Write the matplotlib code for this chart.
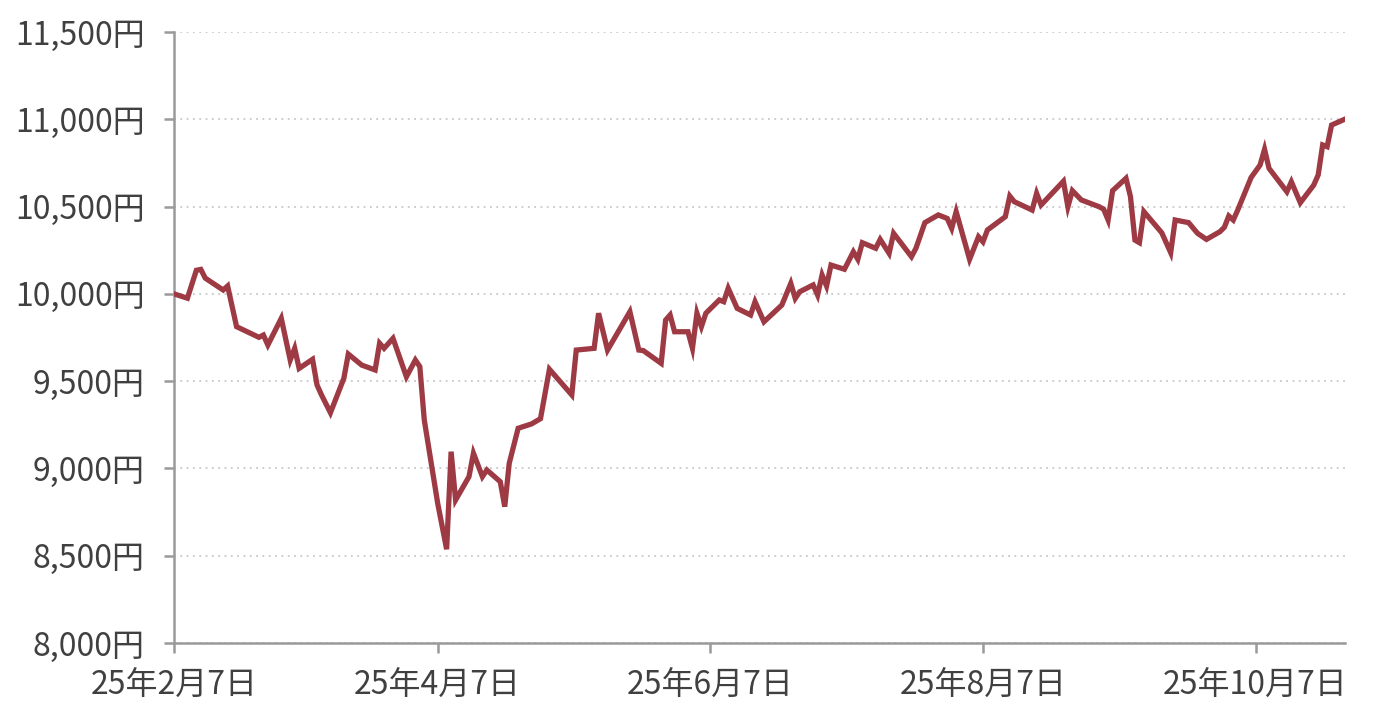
import pandas as pd
import numpy as np
import matplotlib
matplotlib.use('Agg')
import matplotlib.pyplot as plt
import matplotlib.dates as mdates
from matplotlib.ticker import FuncFormatter

plt.rcParams['font.family'] = ['Noto Sans CJK JP', 'DejaVu Sans']

# values (business days, yen)
dates = [
    '2025-02-07', '2025-02-10', '2025-02-12', '2025-02-13', '2025-02-14', '2025-02-18',
    '2025-02-19', '2025-02-21', '2025-02-26', '2025-02-27', '2025-02-28', '2025-03-03',
    '2025-03-05', '2025-03-06', '2025-03-07', '2025-03-10', '2025-03-11', '2025-03-12',
    '2025-03-14', '2025-03-17', '2025-03-18', '2025-03-21', '2025-03-24', '2025-03-25',
    '2025-03-26', '2025-03-28', '2025-03-31', '2025-04-02', '2025-04-03', '2025-04-04',
    '2025-04-07', '2025-04-09', '2025-04-10', '2025-04-11', '2025-04-14', '2025-04-15',
    '2025-04-17', '2025-04-18', '2025-04-21', '2025-04-22', '2025-04-23', '2025-04-25',
    '2025-04-28', '2025-04-30', '2025-05-02', '2025-05-07', '2025-05-08', '2025-05-12',
    '2025-05-13', '2025-05-15', '2025-05-20', '2025-05-22', '2025-05-23', '2025-05-27',
    '2025-05-28', '2025-05-29', '2025-05-30', '2025-06-02', '2025-06-03', '2025-06-04',
    '2025-06-05', '2025-06-06', '2025-06-09', '2025-06-10', '2025-06-11', '2025-06-13',
    '2025-06-16', '2025-06-17', '2025-06-19', '2025-06-23', '2025-06-25', '2025-06-26',
    '2025-06-27', '2025-06-30', '2025-07-01', '2025-07-02', '2025-07-03', '2025-07-04',
    '2025-07-07', '2025-07-09', '2025-07-10', '2025-07-11', '2025-07-14', '2025-07-15',
    '2025-07-17', '2025-07-18', '2025-07-22', '2025-07-23', '2025-07-25', '2025-07-28',
    '2025-07-30', '2025-07-31', '2025-08-01', '2025-08-04', '2025-08-06', '2025-08-07',
    '2025-08-08', '2025-08-12', '2025-08-13', '2025-08-14', '2025-08-18', '2025-08-19',
    '2025-08-20', '2025-08-25', '2025-08-26', '2025-08-27', '2025-08-29', '2025-09-02',
    '2025-09-03', '2025-09-04', '2025-09-05', '2025-09-08', '2025-09-09', '2025-09-10',
    '2025-09-11', '2025-09-12', '2025-09-16', '2025-09-18', '2025-09-19', '2025-09-22',
    '2025-09-24', '2025-09-26', '2025-09-29', '2025-09-30', '2025-10-01', '2025-10-02',
    '2025-10-03', '2025-10-06', '2025-10-08', '2025-10-09', '2025-10-10', '2025-10-14',
    '2025-10-15', '2025-10-17', '2025-10-20', '2025-10-21', '2025-10-22', '2025-10-23',
    '2025-10-24', '2025-10-27',
]
values = [
    10000, 9975, 10135, 10140, 10090, 10022,
    10045, 9812, 9751, 9764, 9707, 9860,
    9621, 9688, 9573, 9625, 9478, 9421,
    9319, 9516, 9655, 9592, 9564, 9717,
    9688, 9745, 9525, 9621, 9583, 9277,
    8800, 8537, 9096, 8819, 8953, 9087,
    8953, 8991, 8924, 8781, 9029, 9230,
    9255, 9285, 9568, 9421, 9678, 9688,
    9889, 9678, 9898, 9678, 9675, 9602,
    9850, 9879, 9783, 9783, 9688, 9889,
    9812, 9889, 9965, 9955, 10032, 9917,
    9879, 9955, 9840, 9936, 10060, 9974,
    10012, 10051, 9993, 10108, 10045, 10165,
    10141, 10241, 10198, 10293, 10261, 10312,
    10232, 10347, 10213, 10261, 10408, 10452,
    10432, 10375, 10471, 10198, 10327, 10298,
    10366, 10442, 10560, 10528, 10480, 10576,
    10509, 10645, 10499, 10591, 10538, 10499,
    10485, 10423, 10591, 10662, 10557, 10308,
    10293, 10471, 10350, 10236, 10423, 10408,
    10347, 10312, 10356, 10381, 10446, 10423,
    10480, 10667, 10738, 10828, 10719, 10585,
    10642, 10522, 10623, 10681, 10853, 10843,
    10967, 11001,
]
tick_dates = ['2025-02-07', '2025-04-07', '2025-06-07', '2025-08-07', '2025-10-07']
y_ticks = [8000, 8500, 9000, 9500, 10000, 10500, 11000, 11500]

x = pd.to_datetime(dates)
text_color = '#404040'
axis_color = '#9a9a9a'

fig = plt.figure(figsize=(13.76, 7.13), dpi=100)
ax = fig.add_axes([174 / 1376, 1 - 643 / 713, (1345 - 174) / 1376, (643 - 32) / 713])

ax.plot(x, values, color='#9E3A44', linewidth=3.8, solid_joinstyle='miter', zorder=3)

ax.set_xlim(pd.Timestamp('2025-02-07'), pd.Timestamp('2025-10-27'))
ax.set_ylim(8000, 11500)
ax.set_yticks(y_ticks)
ax.set_xticks(pd.to_datetime(tick_dates))
ax.yaxis.set_major_formatter(FuncFormatter(lambda v, p: f'{v:,.0f}円'))
ax.xaxis.set_major_formatter(FuncFormatter(
    lambda v, p: '{}年{}月{}日'.format(mdates.num2date(v).year % 100,
                                     mdates.num2date(v).month, mdates.num2date(v).day)))

ax.grid(axis='y', color='#c8c8c8', linestyle=(0, (1, 2.5)), linewidth=1.3)
ax.set_axisbelow(True)
for side in ['top', 'right']:
    ax.spines[side].set_visible(False)
for side in ['left', 'bottom']:
    ax.spines[side].set_color(axis_color)
    ax.spines[side].set_linewidth(1.8)
ax.tick_params(axis='both', colors=axis_color, width=1.8, length=7, direction='out',
               labelsize=23, labelcolor=text_color)
ax.tick_params(axis='y', pad=14)
ax.tick_params(axis='x', pad=12)

fig.savefig('out.png', dpi=100)
